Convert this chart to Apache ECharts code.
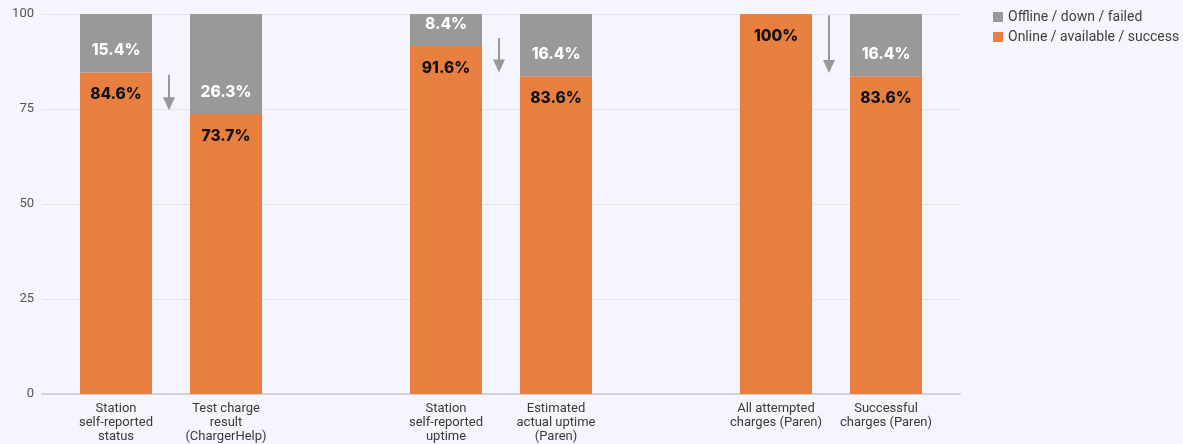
<!DOCTYPE html>
<html>
<head>
<meta charset="utf-8">
<script src="https://cdn.jsdelivr.net/npm/echarts@6/dist/echarts.min.js"></script>
<style>
html,body{margin:0;padding:0;background:#f4f5fd;}
#chart{width:1183px;height:444px;}
</style>
</head>
<body>
<div id="chart"></div>
<script>
const categories = [
  'Station\nself-reported\nstatus',
  'Test charge\nresult\n(ChargerHelp)',
  '',
  'Station\nself-reported\nuptime',
  'Estimated\nactual uptime\n(Paren)',
  '',
  'All attempted\ncharges (Paren)',
  'Successful\ncharges (Paren)'
];
const onlineValues = [84.6, 73.7, null, 91.6, 83.6, null, 100, 83.6];
const offlineValues = [15.4, 26.3, null, 8.4, 16.4, null, 0, 16.4];
const seriesNames = ['Offline / down / failed', 'Online / available / success'];
const yTicks = [0, 25, 50, 75, 100];
// arrows between a category and the next one: [category index, start value, end value]
const arrows = [
  [0, 84, 74.7],
  [3, 93.7, 84.6],
  [6, 99.7, 84.5]
];

const ORANGE = '#e67f40';
const GRAY = '#999999';
const labelFont = 'Inter';

const chart = echarts.init(document.getElementById('chart'));
chart.setOption({
  backgroundColor: '#f4f5fd',
  animation: false,
  legend: {
    data: seriesNames,
    orient: 'vertical',
    left: 988,
    top: 5,
    itemWidth: 10,
    itemHeight: 10,
    itemGap: 6,
    icon: 'rect',
    textStyle: {fontFamily: 'Roboto', fontSize: 14, color: '#3f3f3f'}
  },
  grid: [
    {left: 42, right: 223, top: 14, bottom: 50},
    {left: 61, right: 242, top: 14, bottom: 50}
  ],
  xAxis: [
    {gridIndex: 0, type: 'value', min: 0, max: 1, show: true,
     axisLine: {show: true, onZero: true, lineStyle: {color: '#d2d2da', width: 2}},
     axisTick: {show: false}, axisLabel: {show: false}, splitLine: {show: false}},
    {gridIndex: 1, type: 'category', data: categories,
     axisLine: {show: false}, axisTick: {show: false},
     axisLabel: {interval: 0, margin: 8, fontFamily: 'Roboto', fontSize: 13, lineHeight: 14, color: '#3a3a3a'}}
  ],
  yAxis: [
    {gridIndex: 0, type: 'value', min: yTicks[0], max: yTicks[yTicks.length - 1], interval: 25,
     axisLine: {show: false}, axisTick: {show: false},
     axisLabel: {fontFamily: 'Roboto', fontSize: 13, color: '#555', margin: 8},
     splitLine: {lineStyle: {color: '#e3e3ec', width: 1}}},
    {gridIndex: 1, type: 'value', min: 0, max: 100, show: false, splitLine: {show: false}}
  ],
  series: [
    {
      name: seriesNames[1], type: 'bar', stack: 'total', xAxisIndex: 1, yAxisIndex: 1,
      data: onlineValues, barWidth: 72, itemStyle: {color: ORANGE},
      label: {show: true, position: 'insideTop', distance: 14,
        fontFamily: labelFont, fontWeight: 800, fontSize: 15.5, color: '#111',
        formatter: p => p.value == null ? '' : p.value + '%'}
    },
    {
      name: seriesNames[0], type: 'bar', stack: 'total', xAxisIndex: 1, yAxisIndex: 1,
      data: offlineValues, barWidth: 72, itemStyle: {color: GRAY},
      label: {show: true, position: 'insideBottom', distance: 14,
        fontFamily: labelFont, fontWeight: 800, fontSize: 15.5, color: '#fff',
        formatter: p => (p.value == null || p.value === 0) ? '' : p.value + '%'}
    },
    {
      type: 'custom', xAxisIndex: 1, yAxisIndex: 1, silent: true,
      data: arrows,
      renderItem: function (params, api) {
        const idx = api.value(0);
        const p1 = api.coord([idx, api.value(1)]);
        const p2 = api.coord([idx, api.value(2)]);
        const bw = api.size([1, 0])[0];
        const x = p1[0] + bw / 2 - 2;
        const headH = 13, headW = 6;
        return {
          type: 'group',
          children: [
            {type: 'line', shape: {x1: x, y1: p1[1], x2: x, y2: p2[1] - headH + 1},
             style: {stroke: GRAY, lineWidth: 2}},
            {type: 'polygon', shape: {points: [[x - headW, p2[1] - headH], [x + headW, p2[1] - headH], [x, p2[1]]]},
             style: {fill: GRAY}}
          ]
        };
      }
    }
  ]
});
</script>
</body>
</html>
